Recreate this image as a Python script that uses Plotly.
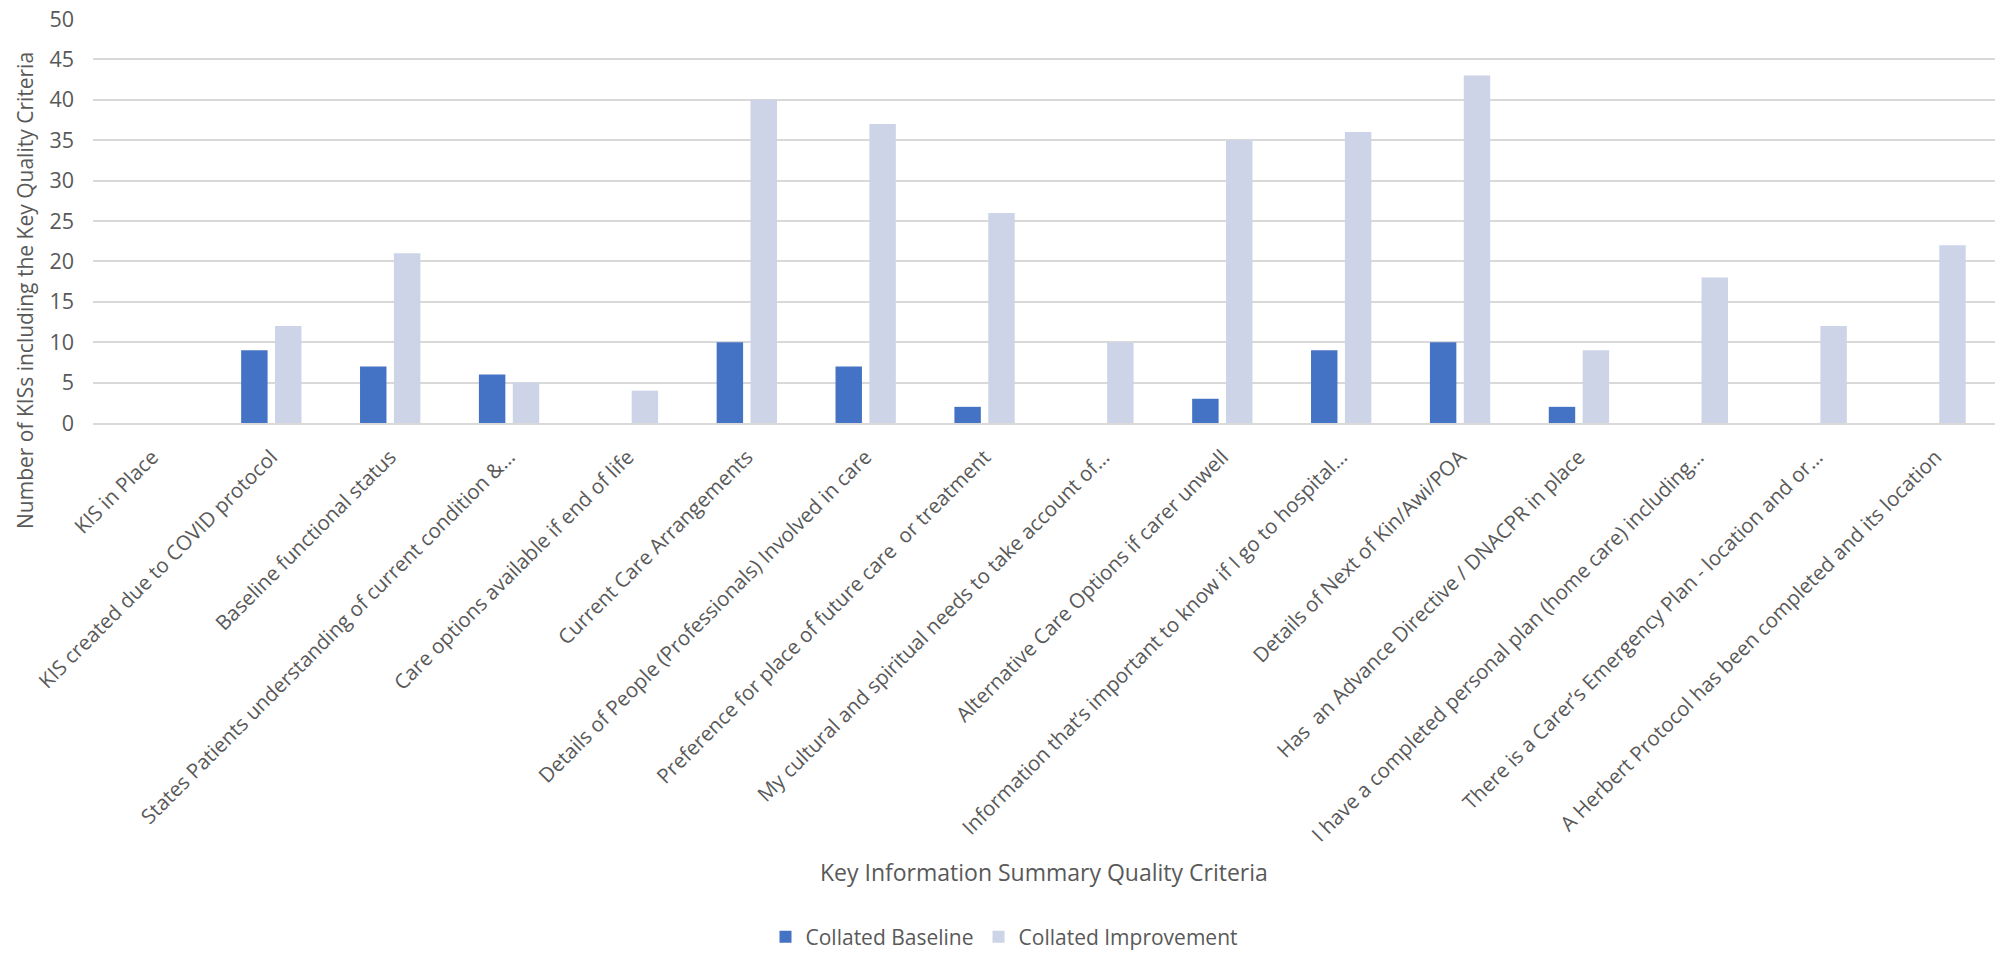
import plotly.graph_objects as go

categories = [
    "KIS in Place",
    "KIS created due to COVID protocol",
    "Baseline functional status",
    "States Patients understanding of current condition &…",
    "Care options available if end of life",
    "Current Care Arrangements",
    "Details of People (Professionals) Involved in care",
    "Preference for place of future care  or treatment",
    "My cultural and spiritual needs to take account of…",
    "Alternative Care Options if carer unwell",
    "Information that’s important to know if I go to hospital…",
    "Details of Next of Kin/Awi/POA",
    "Has  an Advance Directive / DNACPR in place",
    "I have a completed personal plan (home care) including…",
    "There is a Carer’s Emergency Plan - location and or…",
    "A Herbert Protocol has been completed and its location",
]
baseline = [0, 9, 7, 6, 0, 10, 7, 2, 0, 3, 9, 10, 2, 0, 0, 0]
improvement = [0, 12, 21, 5, 4, 40, 37, 26, 10, 35, 36, 43, 9, 18, 12, 22]

W, H = 2008, 954
ML, MR, MT, MB = 93, 13, 19, 531
PH = H - MT - MB
PW = W - ML - MR

def py(p):
    return (H - MB - p) / PH

def px(p):
    return (p - ML) / PW

FONT = "Open Sans"
GREY = "#595959"

fig = go.Figure()
fig.add_trace(go.Bar(x=categories, y=baseline, name="Collated Baseline",
                     marker=dict(color="#4472C4", line=dict(width=0))))
fig.add_trace(go.Bar(x=categories, y=improvement, name="Collated Improvement",
                     marker=dict(color="#CDD4E8", line=dict(width=0))))

fig.update_layout(
    width=W, height=H,
    margin=dict(l=ML, r=MR, t=MT, b=MB, autoexpand=False),
    paper_bgcolor="white", plot_bgcolor="white",
    barmode="group", bargap=0.43, bargroupgap=0.22,
    font=dict(family=FONT, color=GREY, size=20),
    showlegend=True,
    legend=dict(orientation="h", xref="container", yref="container",
                x=0.5, xanchor="center", y=(H - 937) / H, yanchor="middle",
                font=dict(size=21, color=GREY), itemwidth=30,
                traceorder="normal"),
    xaxis=dict(showgrid=False, showline=True, linecolor="#D9D9D9", linewidth=2,
               tickangle=-45, ticks="", automargin=False,
               tickfont=dict(size=20.5, color=GREY, family=FONT),
               ticklabelstandoff=12),
    yaxis=dict(range=[0, 50], dtick=5, showgrid=True, gridcolor="#D9D9D9",
               gridwidth=1.5, zeroline=False, showline=False, ticks="",
               automargin=False, tickfont=dict(size=21.5, color=GREY, family=FONT),
               ticklabelstandoff=18),
    annotations=[
        dict(text="Key Information Summary Quality Criteria", xref="paper", yref="paper",
             x=0.5, y=py(872), xanchor="center", yanchor="middle", showarrow=False,
             font=dict(size=23, color=GREY, family=FONT)),
        dict(text="Number of KISs including the Key Quality Criteria", xref="paper", yref="paper",
             x=px(25), y=py(291), xanchor="center", yanchor="middle", showarrow=False,
             textangle=-90, font=dict(size=21, color=GREY, family=FONT)),
    ],
)

fig.write_html("out.html")
